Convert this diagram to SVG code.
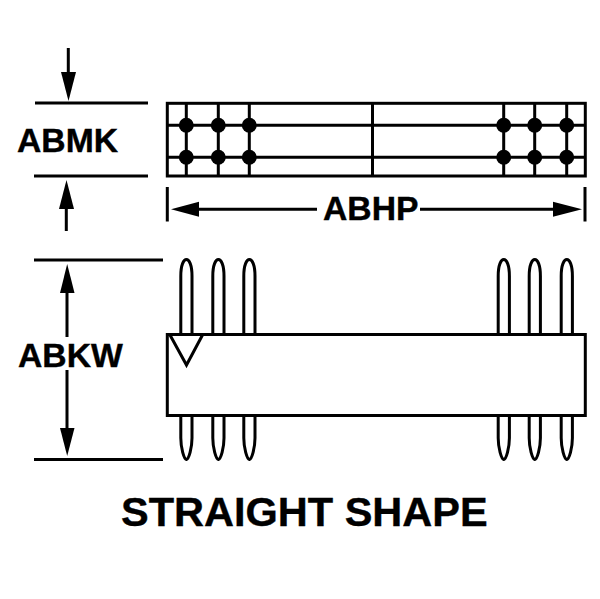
<svg xmlns="http://www.w3.org/2000/svg" width="600" height="599" viewBox="0 0 600 599">
<style>
.l{stroke:#000;stroke-width:3;fill:none}
.a{fill:#000;stroke:none}
.d{fill:#000;stroke:none}
text{font-family:"Liberation Sans",Arial,sans-serif;font-weight:bold;fill:#000;stroke:#000;stroke-width:.4}
.t{font-size:33.700px}
</style>
<rect width="600" height="599" fill="#fff"/>
<g id="top-view">
<rect class="l" x="167.300" y="103.300" width="418" height="72.700"/>
<path class="l" d="M167 125.300H585M167 157.300H585M186.300 103V176M218.300 103V176M249.300 103V176M372.500 103V176M503.700 103V176M534.700 103V176M566.700 103V176"/>
<g class="d">
<circle cx="186.300" cy="125.300" r="7.500"/><circle cx="218.300" cy="125.300" r="7.500"/><circle cx="249.300" cy="125.300" r="7.500"/>
<circle cx="503.700" cy="125.300" r="7.500"/><circle cx="534.700" cy="125.300" r="7.500"/><circle cx="566.700" cy="125.300" r="7.500"/>
<circle cx="186.300" cy="157.300" r="7.500"/><circle cx="218.300" cy="157.300" r="7.500"/><circle cx="249.300" cy="157.300" r="7.500"/>
<circle cx="503.700" cy="157.300" r="7.500"/><circle cx="534.700" cy="157.300" r="7.500"/><circle cx="566.700" cy="157.300" r="7.500"/>
</g>
</g>
<g id="side-view">
<path class="l" id="pins-top" d="M180.800 334V276C180.800 254 192 254 192 276V334M212.800 334V276C212.800 254 224 254 224 276V334M243.800 334V276C243.800 254 255 254 255 276V334M498.200 334V276C498.200 254 509.400 254 509.400 276V334M529.200 334V276C529.200 254 540.400 254 540.400 276V334M561.200 334V276C561.200 254 572.400 254 572.400 276V334"/>
<path class="l" id="pins-bottom" d="M180.800 416V438C180.800 448 184 459 186.400 459.500C188.800 459 192 448 192 438V416M212.800 416V438C212.800 448 216 459 218.400 459.500C220.800 459 224 448 224 438V416M243.800 416V438C243.800 448 247 459 249.400 459.500C251.800 459 255 448 255 438V416M498.200 416V438C498.200 448 501.400 459 503.800 459.500C506.200 459 509.400 448 509.400 438V416M529.200 416V438C529.200 448 532.400 459 534.800 459.500C537.200 459 540.400 448 540.400 438V416M561.200 416V438C561.200 448 564.400 459 566.800 459.500C569.200 459 572.400 448 572.400 438V416"/>
<rect class="l" x="167.300" y="334.500" width="418" height="81" style="fill:#fff"/>
<path class="l" d="M170 335L186.500 365L202.500 335"/>
</g>
<g id="connectors">
<path class="l" d="M35 103H148M34 176H148M34 260H163M34 459.500H163M167.300 187V221.500M585 187V221.500"/>
<path class="l" d="M68.300 48V75M66.300 231V205M67 280V337M67 370V430M195 209.300H317M420 209.300H558"/>
<g class="a">
<polygon points="61,72 76,72 68.500,101"/>
<polygon points="59,209 74,209 66.500,180"/>
<polygon points="60,293 74.500,293 67.200,264"/>
<polygon points="60,428 74.500,428 67.200,456"/>
<polygon points="171,209.300 199,201.800 199,216.800"/>
<polygon points="582,209.300 553,201.800 553,216.800"/>
</g>
</g>
<g id="labels">
<text class="t" x="17" y="152">ABMK</text>
<text class="t" x="18" y="367">ABKW</text>
<text class="t" x="323" y="220">ABHP</text>
<text x="121" y="526" font-size="41.500">STRAIGHT SHAPE</text>
</g>
</svg>
